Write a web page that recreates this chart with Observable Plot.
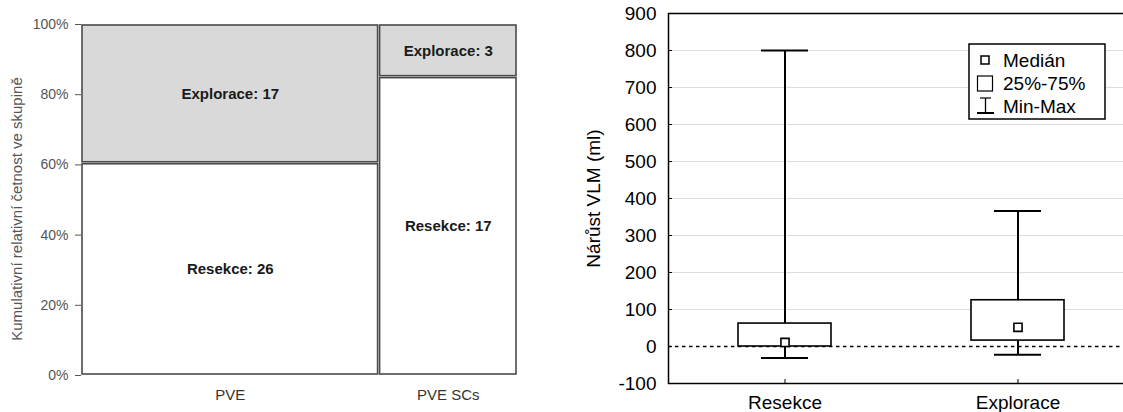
<!DOCTYPE html>
<html>
<head>
<meta charset="utf-8">
<script src="https://cdn.jsdelivr.net/npm/d3@7"></script>
<script src="https://cdn.jsdelivr.net/npm/@observablehq/plot@0.6"></script>
<style>
  html, body { margin: 0; padding: 0; background: #fff; overflow: hidden; }
  #wrap { position: relative; width: 1123px; height: 412px; overflow: hidden; background: #fff; }
  #left { position: absolute; left: 0; top: 0; width: 540px; }
  #right { position: absolute; left: 540px; top: 0; width: 600px; }
  svg { display: block; max-width: none !important; }
</style>
</head>
<body>
<div id="wrap"><div id="left"></div><div id="right"></div></div>
<script>
// ---- Left panel: mosaic (counts per group) ----
const groups = ["PVE", "PVE SCs"];
const resekceCounts = [26, 17];
const exploraceCounts = [17, 3];
const pctTicks = [0, 0.2, 0.4, 0.6, 0.8, 1];
const leftYLabel = "Kumulativní relativní četnost ve skupině";

// ---- Right panel: box plot ----
const categories = ["Resekce", "Explorace"];
const mins = [-31, -22];
const q1s = [0, 16];
const medians = [11, 52];
const q3s = [62, 125];
const maxs = [800, 366];
const vlmTicks = [-100, 0, 100, 200, 300, 400, 500, 600, 700, 800, 900];
const gridTicks = [100, 200, 300, 400, 500, 600, 700, 800];
const rightYLabel = "Nárůst VLM (ml)";
const legendItems = ["Medián", "25%-75%", "Min-Max"];

const FONT = "'Liberation Sans', Arial, Helvetica, sans-serif";

// build mosaic cells
let cum = 0;
const cells = [];
const mids = [];
groups.forEach((g, i) => {
  const tot = resekceCounts[i] + exploraceCounts[i];
  const r = resekceCounts[i] / tot;
  cells.push({x1: cum, x2: cum + tot, y1: 0, y2: r, fill: "#ffffff", label: `Resekce: ${resekceCounts[i]}`});
  cells.push({x1: cum, x2: cum + tot, y1: r, y2: 1, fill: "#d9d9d9", label: `Explorace: ${exploraceCounts[i]}`});
  mids.push({x: cum + tot / 2, name: g});
  cum += tot;
});

const left = Plot.plot({
  width: 540, height: 412,
  marginLeft: 81, marginRight: 23, marginTop: 24, marginBottom: 37,
  style: {fontFamily: FONT, background: "#fff", maxWidth: "none"},
  x: {domain: [0, cum], axis: null},
  y: {domain: [0, 1], axis: null},
  color: {type: "identity"},
  marks: [
    Plot.rect(cells, {x1: "x1", x2: "x2", y1: "y1", y2: "y2", fill: "fill", stroke: "#4a4a4a", strokeWidth: 1.6, inset: 1}),
    Plot.text(cells, {x: d => (d.x1 + d.x2) / 2, y: d => (d.y1 + d.y2) / 2, text: "label", fontWeight: "bold", fontSize: 15, fill: "#1a1a1a"}),
    Plot.axisY(pctTicks, {tickFormat: d => Math.round(d * 100) + "%", tickSize: 6, tickPadding: 7, fontSize: 14, color: "#555", label: null}),
    Plot.text(mids, {x: "x", y: 0, text: "name", dy: 20, fontSize: 15, fill: "#333"}),
    Plot.text([leftYLabel], {frameAnchor: "left", dx: -64, dy: 9, rotate: -90, text: d => d, fontSize: 15, fill: "#555", lineAnchor: "middle", textAnchor: "middle"})
  ]
});
document.getElementById("left").appendChild(left);

const stats = categories.map((c, i) => ({name: c, min: mins[i], q1: q1s[i], median: medians[i], q3: q3s[i], max: maxs[i]}));

const right = Plot.plot({
  width: 600, height: 412,
  marginLeft: 128, marginRight: 6, marginTop: 13, marginBottom: 29,
  style: {fontFamily: FONT, background: "#fff", overflow: "visible", maxWidth: "none"},
  x: {domain: categories, paddingInner: 0.6, paddingOuter: 0.3, axis: null},
  y: {domain: [-100, 900], axis: null},
  marks: [
    Plot.gridY(gridTicks, {stroke: "#dcdcdc", strokeOpacity: 1, strokeWidth: 1}),
    Plot.ruleY([0], {stroke: "#000", strokeWidth: 1.5, strokeDasharray: "3.5,3.5"}),
    Plot.ruleX(stats, {x: "name", y1: "q3", y2: "max", stroke: "#000", strokeWidth: 2}),
    Plot.ruleX(stats, {x: "name", y1: "min", y2: "q1", stroke: "#000", strokeWidth: 2}),
    Plot.tickY(stats, {x: "name", y: "max", stroke: "#000", strokeWidth: 2, insetLeft: 23, insetRight: 23}),
    Plot.tickY(stats, {x: "name", y: "min", stroke: "#000", strokeWidth: 2, insetLeft: 23, insetRight: 23}),
    Plot.barY(stats, {x: "name", y1: "q1", y2: "q3", fill: "#fff", stroke: "#000", strokeWidth: 1.6}),
    Plot.dot(stats, {x: "name", y: "median", symbol: "square", r: 4.6, fill: "#fff", stroke: "#000", strokeWidth: 1.6}),
    Plot.frame({stroke: "#000", strokeWidth: 1.5}),
    Plot.axisY(vlmTicks, {tickFormat: d => String(d), tickSize: 0, tickPadding: 12, fontSize: 19, color: "#000", label: null}),
    Plot.axisY(vlmTicks, {tickSize: 4, dx: 4, text: null, color: "#000", label: null}),
    Plot.axisX(categories, {tickSize: 0, tickPadding: 12, fontSize: 19, color: "#000", label: null}),
    Plot.axisX(categories, {tickSize: 4, dy: -4, text: null, color: "#000", label: null}),
    Plot.text([rightYLabel], {frameAnchor: "left", dx: -75, rotate: -90, text: d => d, fontSize: 19, fill: "#000", lineAnchor: "middle", textAnchor: "middle"})
  ]
});
document.getElementById("right").appendChild(right);

// legend (in right SVG coordinates)
const svg = d3.select(right);
const lg = svg.append("g").attr("font-family", FONT).attr("font-size", 19).attr("text-anchor", "start");
lg.append("rect").attr("x", 429).attr("y", 44).attr("width", 136).attr("height", 75)
  .attr("fill", "#fff").attr("stroke", "#000").attr("stroke-width", 1.5);
lg.append("rect").attr("x", 441).attr("y", 56).attr("width", 8).attr("height", 8)
  .attr("fill", "#fff").attr("stroke", "#000").attr("stroke-width", 1.5);
lg.append("rect").attr("x", 437.5).attr("y", 76).attr("width", 15).attr("height", 15)
  .attr("fill", "#fff").attr("stroke", "#000").attr("stroke-width", 1.2);
lg.append("line").attr("x1", 445.5).attr("x2", 445.5).attr("y1", 98).attr("y2", 113).attr("stroke", "#000").attr("stroke-width", 1.3);
lg.append("line").attr("x1", 440).attr("x2", 451).attr("y1", 98).attr("y2", 98).attr("stroke", "#000").attr("stroke-width", 1.2);
lg.append("line").attr("x1", 437).attr("x2", 454).attr("y1", 113).attr("y2", 113).attr("stroke", "#000").attr("stroke-width", 2);
const ly = [60, 83, 106];
legendItems.forEach((t, i) => {
  lg.append("text").attr("x", 463).attr("y", ly[i]).attr("dy", "0.35em").attr("fill", "#000").text(t);
});
</script>
</body>
</html>
